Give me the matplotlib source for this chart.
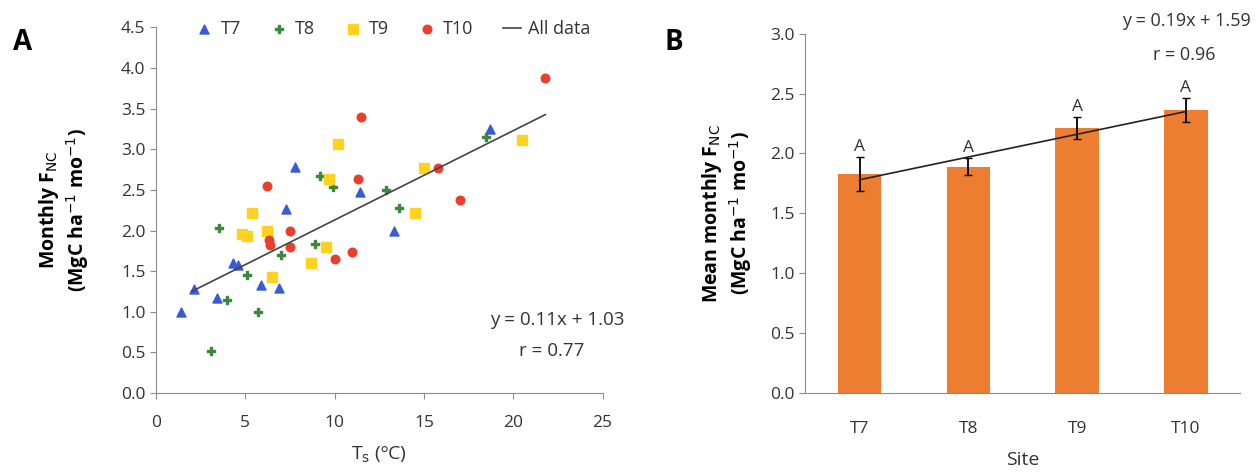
import numpy as np
import matplotlib
matplotlib.use('Agg')
import matplotlib.pyplot as plt

plt.rcParams['font.family'] = ['Open Sans', 'DejaVu Sans']

# panel A data: soil temperature vs monthly F_NC per site
t7_x = [1.4, 2.1, 3.4, 4.3, 4.6, 5.9, 6.9, 7.3, 7.8, 11.4, 13.3, 18.7]
t7_y = [1.00, 1.28, 1.17, 1.60, 1.57, 1.33, 1.29, 2.27, 2.78, 2.47, 2.00, 3.25]
t8_x = [3.1, 3.5, 4.0, 5.1, 5.7, 7.0, 8.9, 9.2, 9.9, 12.9, 13.6, 18.5]
t8_y = [0.52, 2.03, 1.15, 1.45, 1.00, 1.70, 1.84, 2.67, 2.53, 2.50, 2.28, 3.15]
t9_x = [4.8, 5.1, 5.4, 6.2, 6.5, 8.7, 9.5, 9.7, 10.2, 14.5, 15.0, 20.5]
t9_y = [1.96, 1.93, 2.22, 2.00, 1.43, 1.60, 1.80, 2.63, 3.07, 2.22, 2.77, 3.12]
t10_x = [6.2, 6.3, 6.4, 7.5, 7.5, 10.0, 11.0, 11.3, 11.5, 15.8, 17.0, 21.8]
t10_y = [2.55, 1.88, 1.82, 1.80, 2.00, 1.65, 1.73, 2.63, 3.40, 2.77, 2.37, 3.88]
fit_a = (0.11, 1.03)

# panel B data: site means
sites = ['T7', 'T8', 'T9', 'T10']
means = [1.83, 1.89, 2.21, 2.36]
errs = [0.14, 0.07, 0.09, 0.10]
fit_b = (0.19, 1.59)

fig = plt.figure(figsize=(12.58, 4.74), dpi=100)
axA = fig.add_axes([0.124, 0.171, 0.355, 0.771])
axB = fig.add_axes([0.640, 0.171, 0.346, 0.758])

grey = '#8c8c8c'
txt = '#333333'
for ax in (axA, axB):
    ax.spines['top'].set_visible(False)
    ax.spines['right'].set_visible(False)
    ax.spines['left'].set_color(grey)
    ax.spines['bottom'].set_color(grey)
    ax.tick_params(colors=grey, labelcolor=txt, labelsize=12.5, length=4)

# --- panel A
axA.scatter(t7_x, t7_y, marker='^', s=42, color='#3b5bd6', label='T7', zorder=3)
axA.scatter(t8_x, t8_y, marker='P', s=38, color='#3a8a3e', label='T8', zorder=3)
axA.scatter(t9_x, t9_y, marker='s', s=48, color='#ffd21f', label='T9', zorder=3)
axA.scatter(t10_x, t10_y, marker='o', s=38, color='#e8402c', label='T10', zorder=3)
all_x = np.array(t7_x + t8_x + t9_x + t10_x)
xs = np.array([2.0, all_x.max()])
axA.plot(xs, fit_a[0] * xs + fit_a[1], color='#444444', lw=1.2, label='All data', zorder=4)

axA.set_xlim(0, 25)
axA.set_ylim(0, 4.5)
axA.set_xticks(range(0, 26, 5))
axA.set_yticks(np.arange(0, 4.6, 0.5))
axA.yaxis.set_major_formatter(matplotlib.ticker.FormatStrFormatter('%.1f'))
axA.tick_params(axis='x', pad=12)
axA.set_xlabel(r'T$_\mathrm{s}$ (ºC)', fontsize=14, color=txt, labelpad=10)
axA.set_ylabel('Monthly F$_\\mathrm{NC}$\n(MgC ha$^{-1}$ mo$^{-1}$)', fontsize=14,
               fontweight='bold', labelpad=22, linespacing=1.15)
axA.legend(loc='upper center', bbox_to_anchor=(0.53, 1.065), ncol=5, frameon=False,
           fontsize=13, handlelength=1.0, handletextpad=0.4, columnspacing=1.6,
           labelcolor=txt)
axA.text(26.2, 0.9, 'y = 0.11x + 1.03', ha='right', va='center', fontsize=13.5,
         color=txt, clip_on=False)
axA.text(24.0, 0.52, 'r = 0.77', ha='right', va='center', fontsize=13.5,
         color=txt, clip_on=False)
fig.text(0.010, 0.895, 'A', fontsize=20, fontweight='bold')

# --- panel B
pos = np.arange(1, len(sites) + 1)
axB.bar(pos, means, width=0.4, color='#ed7d31', zorder=2)
axB.errorbar(pos, means, yerr=errs, fmt='none', ecolor='black', elinewidth=1.3,
             capsize=3, zorder=3)
for p, m, e in zip(pos, means, errs):
    axB.text(p, m + e + 0.02, 'A', ha='center', va='bottom', fontsize=12.5, color=txt)
xb = np.array([1, 4])
axB.plot(xb, fit_b[0] * xb + fit_b[1], color='#222222', lw=1.2, zorder=4)
axB.set_xlim(0.5, 4.5)
axB.set_ylim(0, 3.0)
axB.set_xticks(pos)
axB.set_xticklabels(sites)
axB.tick_params(axis='x', length=0, pad=20)
axB.set_yticks(np.arange(0, 3.1, 0.5))
axB.yaxis.set_major_formatter(matplotlib.ticker.FormatStrFormatter('%.1f'))
axB.set_xlabel('Site', fontsize=14, color=txt, labelpad=10)
axB.set_ylabel('Mean monthly F$_\\mathrm{NC}$\n(MgC ha$^{-1}$ mo$^{-1}$)', fontsize=14,
               fontweight='bold', labelpad=12, linespacing=1.15)
fig.text(0.994, 0.955, 'y = 0.19x + 1.59', ha='right', va='center', fontsize=13,
         color=txt)
fig.text(0.966, 0.885, 'r = 0.96', ha='right', va='center', fontsize=13,
         color=txt)
fig.text(0.528, 0.895, 'B', fontsize=20, fontweight='bold')

fig.savefig('out.png', dpi=100)
